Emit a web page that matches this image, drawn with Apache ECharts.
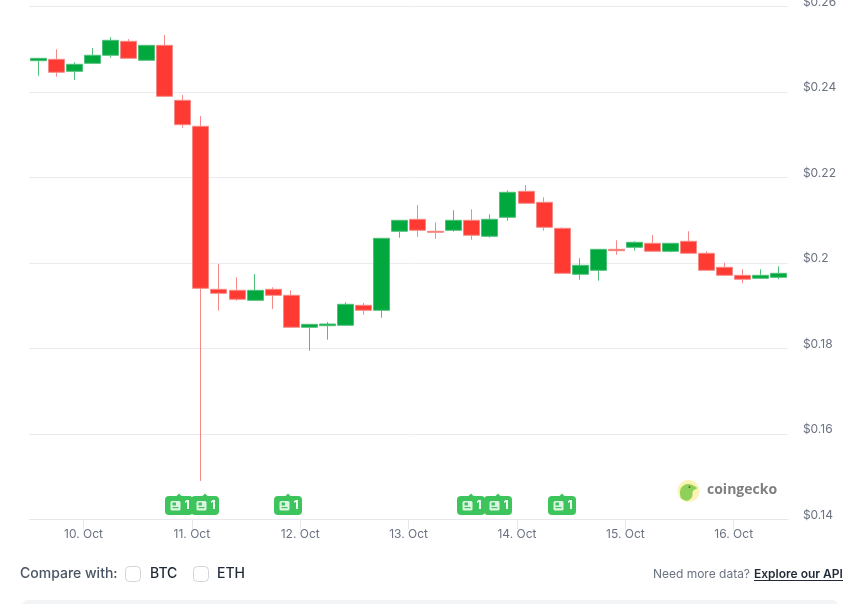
<!DOCTYPE html>
<html>
<head>
<meta charset="utf-8">
<style>html,body{margin:0;padding:0;background:#fff}#chart{width:858px;height:604px}</style>
<script src="https://cdn.jsdelivr.net/npm/echarts@6/dist/echarts.min.js"></script>
</head>
<body>
<div id="chart"></div>
<script>
// Four-hour USD candles, 9 Oct 12:00 to 16 Oct 12:00
const opens = [.24732,.24765,.24484,.24671,.24859,.25186,.24742,.25092,.23806,.23198,.19385,.19361,.19127,.19385,.19244,.18496,.18533,.18543,.19011,.18894,.20742,.21022,.20742,.20765,.20999,.20625,.21069,.21677,.21420,.20812,.19736,.19829,.20320,.20367,.20461,.20274,.20508,.20227,.19899,.19712,.19642,.19665];
const closes = [.24788,.24461,.24648,.24859,.25209,.24788,.25092,.23899,.23235,.19408,.19291,.19151,.19361,.19244,.18496,.18566,.18573,.19034,.18894,.20578,.20999,.20765,.20718,.20999,.20648,.21022,.21654,.21397,.20835,.19759,.19946,.20320,.20288,.20484,.20274,.20461,.20227,.19829,.19712,.19619,.19712,.19759];
const lows = [.24381,.24358,.24281,.24671,.24802,.24788,.24742,.23899,.23165,.14900,.18884,.19118,.19127,.18924,.18496,.17948,.18206,.18543,.18791,.18720,.20592,.20615,.20568,.20732,.20545,.20592,.20989,.21397,.20756,.19759,.19609,.19586,.20194,.20288,.20274,.20250,.20227,.19829,.19712,.19525,.19642,.19619];
const highs = [.24788,.24999,.24695,.25029,.25280,.25240,.25092,.25333,.23930,.23439,.19977,.19665,.19743,.19432,.19361,.18566,.18620,.19081,.19064,.20578,.20999,.21357,.20952,.21233,.21256,.21139,.21701,.21825,.21537,.20835,.20110,.20320,.20531,.20508,.20655,.20461,.20742,.20274,.20007,.19853,.19853,.19923];

// Day labels sit on the candle boundaries, one every six candles
const dayLabels = ['10. Oct','11. Oct','12. Oct','13. Oct','14. Oct','15. Oct','16. Oct'];
const firstDayBoundary = 3;
const candlesPerDay = 6;
const candleCount = opens.length;

// News flags, positioned in candle units along the time range
const newsPositions = [8.28, 9.75, 14.3, 24.45, 25.95, 29.5];
const newsCounts = [1, 1, 1, 1, 1, 1];
const newsLevel = 0.1455;

const priceTicks = [0.14, 0.16, 0.18, 0.2, 0.22, 0.24, 0.26];

const candleCategories = opens.map((_, i) => 'c' + i);
const boundaryCategories = Array.from({length: candleCount + 1}, (_, i) => {
  const d = (i - firstDayBoundary) / candlesPerDay;
  return Number.isInteger(d) && dayLabels[d] ? dayLabels[d] : '';
});
const candles = opens.map((o, i) => [o, closes[i], lows[i], highs[i]]);

const GREEN = '#00a83e', RED = '#ff3a33';
const chart = echarts.init(document.getElementById('chart'), null, {renderer: 'canvas'});
const UI_FONT = 'Inter, "Noto Sans", sans-serif';

function renderFlag(params, api) {
  const p = api.coord([api.value(0), api.value(1)]);
  const cx = Math.round(p[0]);
  const top = p[1];
  const fill = '#3ec45c';
  return {
    type: 'group',
    children: [
      {type: 'rect', shape: {x: cx - 14, y: top, width: 28, height: 19, r: 4}, style: {fill}},
      {type: 'polygon', shape: {points: [[cx - 3, top + 0.5], [cx, top - 2.5], [cx + 3, top + 0.5]]}, style: {fill}},
      {type: 'rect', shape: {x: cx - 8.5, y: top + 5, width: 10, height: 9.5, r: 1.5}, style: {fill: '#dcf5e2'}},
      {type: 'rect', shape: {x: cx - 6.5, y: top + 6.5, width: 3.5, height: 3}, style: {fill: fill}},
      {type: 'rect', shape: {x: cx - 6.5, y: top + 11, width: 6, height: 1.2}, style: {fill: fill}},
      {type: 'text', style: {x: cx + 8, y: top + 9.5, text: String(api.value(2)), fill: '#ffffff', font: '700 12px ' + UI_FONT, align: 'center', verticalAlign: 'middle'}}
    ]
  };
}

chart.setOption({
  animation: false,
  backgroundColor: '#ffffff',
  grid: {left: 29.3, top: 6.5, width: 758.6, height: 513, outerBoundsMode: 'none'},
  xAxis: [
    {type: 'category', data: candleCategories, show: false, boundaryGap: true},
    {
      type: 'category', data: boundaryCategories, boundaryGap: false, position: 'bottom',
      axisLine: {show: true, lineStyle: {color: '#e5e7eb', width: 1}},
      axisTick: {show: true, length: 10, interval: (i, v) => v !== '', lineStyle: {color: '#e5e7eb'}},
      axisLabel: {interval: (i, v) => v !== '', color: '#6b7280', fontFamily: UI_FONT, fontSize: 12, margin: 9, hideOverlap: false},
      splitLine: {show: false}
    },
    {type: 'value', min: 0, max: candleCount, show: false}
  ],
  yAxis: {
    type: 'value', min: priceTicks[0], max: priceTicks[priceTicks.length - 1], interval: 0.02, position: 'right',
    axisLine: {show: false}, axisTick: {show: false},
    splitLine: {lineStyle: {color: '#e9ebef', width: 1}},
    axisLabel: {
      color: '#6b7280', fontFamily: UI_FONT, fontSize: 12, margin: 15,
      verticalAlign: 'bottom', lineHeight: 9, showMinLabel: true, showMaxLabel: true,
      formatter: v => '$' + parseFloat(v.toFixed(2))
    }
  },
  series: [
    {
      type: 'candlestick', xAxisIndex: 0, data: candles, barWidth: 16.5, clip: false,
      itemStyle: {color: GREEN, color0: RED, borderColor: '#4fc07a', borderColor0: '#f58a86', borderWidth: 1}
    },
    {
      type: 'custom', xAxisIndex: 2, clip: false, z: 5,
      data: newsPositions.map((x, i) => [x, newsLevel, newsCounts[i]]),
      renderItem: renderFlag
    }
  ],
  graphic: [
    {type: 'circle', shape: {cx: 688.5, cy: 491, r: 11}, style: {fill: '#fbf3b4'}, z: 3},
    {type: 'polygon', shape: {smooth: 0.35, points: [[680.5,497],[681,488],[688,484],[697,488],[693,491],[692,497],[688,500.5],[684,500]]}, style: {fill: '#8fd05a'}, z: 4},
    {type: 'circle', shape: {cx: 689.5, cy: 487, r: 1}, style: {fill: '#5a6b2a'}, z: 5},
    {type: 'text', style: {x: 707, y: 490.5, text: 'coingecko', fill: '#7f7f7f', font: '700 14px "Open Sans", sans-serif', verticalAlign: 'middle'}, z: 3},
    {type: 'text', style: {x: 20, y: 574, text: 'Compare with:', fill: '#4b5563', font: '500 14px ' + UI_FONT, verticalAlign: 'middle'}},
    {type: 'rect', shape: {x: 125.5, y: 566.5, width: 15, height: 15, r: 4}, style: {fill: '#fff', stroke: '#d1d5db', lineWidth: 1}},
    {type: 'text', style: {x: 150, y: 574, text: 'BTC', fill: '#1f2937', font: '500 14px ' + UI_FONT, verticalAlign: 'middle'}},
    {type: 'rect', shape: {x: 193.5, y: 566.5, width: 15, height: 15, r: 4}, style: {fill: '#fff', stroke: '#d1d5db', lineWidth: 1}},
    {type: 'text', style: {x: 217, y: 574, text: 'ETH', fill: '#1f2937', font: '500 14px ' + UI_FONT, verticalAlign: 'middle'}},
    {type: 'text', style: {x: 750, y: 574, text: 'Need more data?', fill: '#6b7280', font: '400 12px ' + UI_FONT, align: 'right', verticalAlign: 'middle'}},
    {type: 'text', style: {x: 754, y: 574, text: 'Explore our API', fill: '#1f2937', font: '600 12px ' + UI_FONT, verticalAlign: 'middle'}},
    {type: 'rect', shape: {x: 754, y: 580, width: 89, height: 1}, style: {fill: '#1f2937'}},
    {type: 'rect', shape: {x: 22, y: 600, width: 816, height: 14, r: 6}, style: {fill: '#f3f4f6'}}
  ]
});
</script>
</body>
</html>
